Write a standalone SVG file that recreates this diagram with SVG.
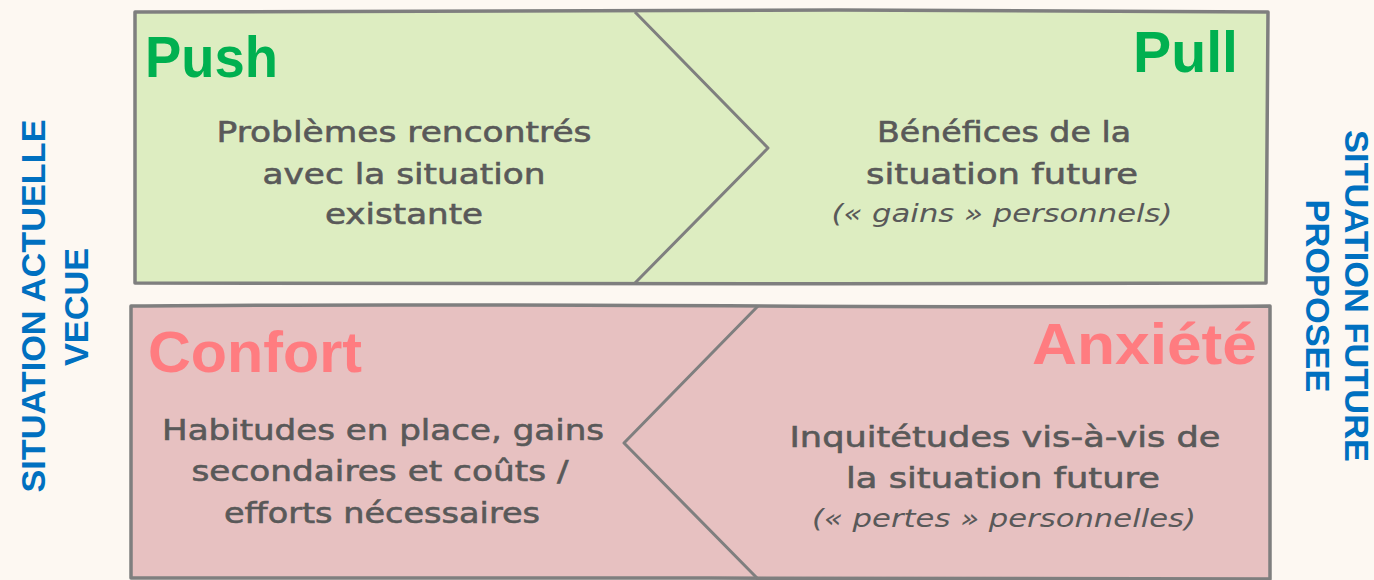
<svg xmlns="http://www.w3.org/2000/svg" width="1374" height="580" viewBox="0 0 1374 580">
<style>
.band{stroke:#7F7F7F;stroke-width:3.5;stroke-linejoin:round}
.chev{fill:none;stroke:#7F7F7F;stroke-width:3;stroke-linejoin:round}
.green{fill:#DDEDC1}
.pink{fill:#E7C1C1}
.title{font-family:"Liberation Sans",Arial,sans-serif;font-weight:bold;font-size:58px}
.tg{fill:#00B050}
.tp{fill:#FF7C80}
.body{font-family:"DejaVu Sans",Verdana,sans-serif;font-size:29px;fill:#595959;stroke:#595959;stroke-width:0.6;text-anchor:middle}
.small{font-family:"DejaVu Sans",Verdana,sans-serif;font-style:italic;font-size:25px;fill:#595959;text-anchor:middle}
.side{font-family:"Liberation Sans",Arial,sans-serif;font-weight:bold;font-size:34px;fill:#0070C0;text-anchor:middle}
</style>
<rect width="1374" height="580" fill="#FDF8F2"/>
<g id="top-band">
<path class="band green" d="M135,12 C400,9 900,9 1268,12 L1266,283 C900,286 400,281 135,283 Z"/>
</g>
<g id="bottom-band">
<path class="band pink" d="M131,306 C500,302 900,309 1270,306 L1270,579 C900,576 500,580 131,578 Z"/>
</g>
<g id="connectors">
<path class="chev" d="M635,12 L768,148 L635,283"/>
<path class="chev" d="M758,306 L624,443 L757,578"/>
</g>
<g id="push">
<text class="title tg" x="145" y="77" textLength="133" lengthAdjust="spacingAndGlyphs">Push</text>
<text class="body" x="404" y="142" textLength="375" lengthAdjust="spacingAndGlyphs">Problèmes rencontrés</text>
<text class="body" x="404" y="184" textLength="283" lengthAdjust="spacingAndGlyphs">avec la situation</text>
<text class="body" x="404" y="224" textLength="158" lengthAdjust="spacingAndGlyphs">existante</text>
</g>
<g id="pull">
<text class="title tg" x="1133" y="72" textLength="105" lengthAdjust="spacingAndGlyphs">Pull</text>
<text class="body" x="1004" y="142" textLength="254" lengthAdjust="spacingAndGlyphs">Bénéfices de la</text>
<text class="body" x="1002" y="184" textLength="272" lengthAdjust="spacingAndGlyphs">situation future</text>
<text class="small" x="1002" y="222" textLength="341" lengthAdjust="spacingAndGlyphs">(« gains » personnels)</text>
</g>
<g id="confort">
<text class="title tp" x="148" y="372" textLength="214" lengthAdjust="spacingAndGlyphs">Confort</text>
<text class="body" x="383" y="440" textLength="442" lengthAdjust="spacingAndGlyphs">Habitudes en place, gains</text>
<text class="body" x="380" y="481" textLength="377" lengthAdjust="spacingAndGlyphs">secondaires et coûts /</text>
<text class="body" x="382" y="523" textLength="316" lengthAdjust="spacingAndGlyphs">efforts nécessaires</text>
</g>
<g id="anxiete">
<text class="title tp" x="1032" y="364" textLength="225" lengthAdjust="spacingAndGlyphs">Anxiété</text>
<text class="body" x="1005" y="447" textLength="431" lengthAdjust="spacingAndGlyphs">Inquitétudes vis-à-vis de</text>
<text class="body" x="1003" y="488" textLength="314" lengthAdjust="spacingAndGlyphs">la situation future</text>
<text class="small" x="1004" y="527" textLength="384" lengthAdjust="spacingAndGlyphs">(« pertes » personnelles)</text>
</g>
<g id="left-label">
<text class="side" transform="translate(45,306) rotate(-90)" textLength="373" lengthAdjust="spacingAndGlyphs">SITUATION ACTUELLE</text>
<text class="side" transform="translate(88,307) rotate(-90)" textLength="118" lengthAdjust="spacingAndGlyphs">VECUE</text>
</g>
<g id="right-label">
<text class="side" transform="translate(1345,296) rotate(90)" textLength="332" lengthAdjust="spacingAndGlyphs">SITUATION FUTURE</text>
<text class="side" transform="translate(1306,296) rotate(90)" textLength="193" lengthAdjust="spacingAndGlyphs">PROPOSEE</text>
</g>
</svg>
